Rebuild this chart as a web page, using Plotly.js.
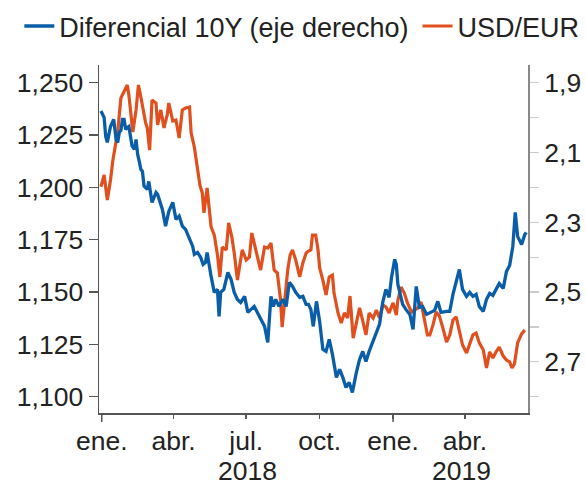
<!DOCTYPE html>
<html>
<head>
<meta charset="utf-8">
<script src="https://cdn.plot.ly/plotly-3.0.1.min.js"></script>
<style>html,body{margin:0;padding:0;background:#fff}#chart{width:586px;height:487px}</style>
</head>
<body>
<div id="chart"></div>
<script>
// USD/EUR (left axis)
const usdDates = ['2017-12-31','2018-01-04','2018-01-08','2018-01-12','2018-01-15','2018-01-19','2018-01-21','2018-01-25','2018-01-29','2018-02-02','2018-02-04','2018-02-06','2018-02-09','2018-02-13','2018-02-16','2018-02-19','2018-02-22','2018-02-25','2018-02-27','2018-03-02','2018-03-05','2018-03-10','2018-03-12','2018-03-16','2018-03-20','2018-03-24','2018-03-26','2018-03-31','2018-04-04','2018-04-08','2018-04-12','2018-04-16','2018-04-21','2018-04-23','2018-04-27','2018-05-01','2018-05-04','2018-05-07','2018-05-09','2018-05-13','2018-05-18','2018-05-22','2018-05-26','2018-05-29','2018-06-01','2018-06-06','2018-06-09','2018-06-13','2018-06-16','2018-06-20','2018-06-24','2018-06-26','2018-07-01','2018-07-05','2018-07-08','2018-07-11','2018-07-15','2018-07-19','2018-07-24','2018-07-28','2018-08-01','2018-08-05','2018-08-09','2018-08-13','2018-08-15','2018-08-18','2018-08-22','2018-08-25','2018-08-28','2018-09-01','2018-09-06','2018-09-10','2018-09-14','2018-09-17','2018-09-20','2018-09-22','2018-09-26','2018-09-29','2018-10-01','2018-10-05','2018-10-09','2018-10-13','2018-10-17','2018-10-19','2018-10-24','2018-10-28','2018-11-01','2018-11-05','2018-11-08','2018-11-12','2018-11-16','2018-11-20','2018-11-24','2018-11-28','2018-12-02','2018-12-07','2018-12-11','2018-12-15','2018-12-19','2018-12-23','2018-12-27','2019-01-01','2019-01-05','2019-01-07','2019-01-11','2019-01-15','2019-01-19','2019-01-24','2019-01-28','2019-02-01','2019-02-05','2019-02-09','2019-02-13','2019-02-16','2019-02-20','2019-02-24','2019-02-28','2019-03-04','2019-03-09','2019-03-13','2019-03-17','2019-03-21','2019-03-25','2019-03-29','2019-04-03','2019-04-07','2019-04-11','2019-04-15','2019-04-19','2019-04-24','2019-04-28','2019-05-02','2019-05-06','2019-05-10','2019-05-14','2019-05-19','2019-05-23','2019-05-27','2019-05-30','2019-06-02','2019-06-06','2019-06-11','2019-06-15'];
const usdEur = [1.2003,1.2059,1.1940,1.2035,1.2131,1.2212,1.2264,1.2427,1.2456,1.2489,1.2441,1.2379,1.2264,1.2370,1.2489,1.2432,1.2360,1.2308,1.2284,1.2178,1.2417,1.2403,1.2298,1.2370,1.2284,1.2346,1.2403,1.2317,1.2322,1.2236,1.2370,1.2379,1.2384,1.2260,1.2193,1.2097,1.2011,1.1973,1.1878,1.1997,1.1811,1.1772,1.1677,1.1572,1.1715,1.1701,1.1830,1.1763,1.1686,1.1557,1.1653,1.1701,1.1653,1.1667,1.1782,1.1734,1.1667,1.1605,1.1715,1.1710,1.1734,1.1605,1.1591,1.1462,1.1333,1.1462,1.1605,1.1677,1.1701,1.1653,1.1572,1.1639,1.1686,1.1696,1.1701,1.1772,1.1772,1.1701,1.1615,1.1557,1.1486,1.1572,1.1581,1.1495,1.1400,1.1352,1.1400,1.1376,1.1481,1.1280,1.1357,1.1424,1.1362,1.1295,1.1400,1.1376,1.1414,1.1376,1.1438,1.1429,1.1400,1.1448,1.1390,1.1462,1.1524,1.1495,1.1448,1.1405,1.1414,1.1424,1.1452,1.1366,1.1295,1.1295,1.1343,1.1405,1.1386,1.1333,1.1261,1.1295,1.1366,1.1381,1.1319,1.1247,1.1209,1.1247,1.1295,1.1304,1.1257,1.1223,1.1137,1.1214,1.1185,1.1214,1.1237,1.1194,1.1175,1.1166,1.1137,1.1156,1.1257,1.1300,1.1319];

// Diferencial 10Y (right axis, reversed)
const difDates = ['2017-12-31','2018-01-04','2018-01-06','2018-01-08','2018-01-10','2018-01-12','2018-01-16','2018-01-19','2018-01-21','2018-01-23','2018-01-25','2018-01-27','2018-01-29','2018-01-31','2018-02-02','2018-02-04','2018-02-08','2018-02-11','2018-02-13','2018-02-15','2018-02-17','2018-02-19','2018-02-21','2018-02-23','2018-02-27','2018-03-01','2018-03-05','2018-03-10','2018-03-12','2018-03-14','2018-03-18','2018-03-22','2018-03-26','2018-03-31','2018-04-04','2018-04-08','2018-04-12','2018-04-16','2018-04-21','2018-04-25','2018-04-27','2018-05-01','2018-05-05','2018-05-08','2018-05-11','2018-05-13','2018-05-18','2018-05-22','2018-05-26','2018-05-28','2018-05-30','2018-06-03','2018-06-08','2018-06-12','2018-06-16','2018-06-20','2018-06-24','2018-06-29','2018-07-03','2018-07-07','2018-07-11','2018-07-15','2018-07-19','2018-07-24','2018-07-28','2018-08-01','2018-08-04','2018-08-07','2018-08-11','2018-08-16','2018-08-20','2018-08-24','2018-08-28','2018-09-01','2018-09-06','2018-09-10','2018-09-14','2018-09-17','2018-09-20','2018-09-23','2018-09-27','2018-10-01','2018-10-05','2018-10-09','2018-10-13','2018-10-17','2018-10-22','2018-10-26','2018-10-30','2018-11-03','2018-11-07','2018-11-11','2018-11-16','2018-11-20','2018-11-24','2018-11-28','2018-12-02','2018-12-07','2018-12-11','2018-12-15','2018-12-19','2018-12-23','2018-12-27','2018-12-30','2019-01-03','2019-01-05','2019-01-07','2019-01-09','2019-01-13','2019-01-17','2019-01-22','2019-01-26','2019-01-30','2019-02-03','2019-02-07','2019-02-12','2019-02-16','2019-02-22','2019-02-26','2019-03-02','2019-03-09','2019-03-13','2019-03-17','2019-03-21','2019-03-25','2019-03-29','2019-04-03','2019-04-07','2019-04-11','2019-04-15','2019-04-19','2019-04-24','2019-04-28','2019-05-02','2019-05-06','2019-05-10','2019-05-14','2019-05-19','2019-05-23','2019-05-27','2019-05-31','2019-06-03','2019-06-06','2019-06-11','2019-06-15','2019-06-17'];
const dif10y = [1.9814,1.9995,2.0539,2.0711,2.0482,2.0253,2.0052,2.0625,2.0711,2.0425,2.0367,2.0052,2.0052,2.0339,2.0281,2.0253,2.0817,2.0912,2.0625,2.1055,2.1256,2.1485,2.1542,2.1964,2.2058,2.1829,2.2431,2.2144,2.2202,2.2345,2.2632,2.3110,2.2689,2.2431,2.2918,2.2824,2.3110,2.3205,2.3491,2.3692,2.3921,2.3864,2.4007,2.4208,2.4151,2.3864,2.4552,2.5010,2.4924,2.5698,2.5010,2.4924,2.4437,2.4638,2.5010,2.5211,2.5297,2.5125,2.5584,2.5498,2.5412,2.5584,2.5784,2.5985,2.6444,2.5125,2.5412,2.5211,2.5412,2.5211,2.5412,2.4724,2.4839,2.5010,2.5154,2.5125,2.5354,2.5354,2.5498,2.5985,2.5268,2.5842,2.6644,2.6702,2.6358,2.6788,2.7447,2.7217,2.7447,2.7733,2.7590,2.7877,2.7303,2.6931,2.6702,2.6988,2.6702,2.6415,2.6214,2.5928,2.5297,2.4924,2.5154,2.4581,2.4065,2.4208,2.4781,2.4982,2.5354,2.5498,2.5641,2.6071,2.4839,2.5440,2.5412,2.5641,2.5584,2.5526,2.5268,2.5584,2.5555,2.5555,2.5068,2.4724,2.4351,2.4924,2.5125,2.5010,2.5125,2.5068,2.5412,2.5555,2.5211,2.5039,2.5096,2.4924,2.4753,2.4896,2.4409,2.4237,2.3692,2.2718,2.3405,2.3635,2.3348,2.3291];

const xTickVals = ['2018-01-01','2018-04-01','2018-07-01','2018-10-01','2019-01-01','2019-04-01'];
const xTickText = ['ene.','abr.','jul.','oct.','ene.','abr.'];
const yearLabels = ['2018','2019'];
const yearLabelDates = ['2018-07-03','2019-03-28'];
const yearStarts = ['2018-01-01','2019-01-01'];
const leftTicks = [1.100,1.125,1.150,1.175,1.200,1.225,1.250];
const rightTicks = [1.9,2.1,2.3,2.5,2.7];

const BLUE = '#0a5ea8';
const ORANGE = '#e0501f';
const FONT = 'Liberation Sans, Arial, sans-serif';
const TICKFONT = {family: FONT, size: 26.5, color: '#222'};

const traces = [
  {x: difDates, y: dif10y, name: 'Diferencial 10Y (eje derecho)', type: 'scatter', mode: 'lines',
   yaxis: 'y2', legend: 'legend', line: {color: BLUE, width: 3.3}},
  {x: usdDates, y: usdEur, name: 'USD/EUR', type: 'scatter', mode: 'lines',
   yaxis: 'y', legend: 'legend2', line: {color: ORANGE, width: 3.2}}
];

const shapes = yearStarts.map(d => ({
  type: 'line', xref: 'x', yref: 'paper', x0: d, x1: d, y0: 0, y1: -0.026,
  line: {color: '#555', width: 1.5}
}));

const annotations = yearLabels.map((t, i) => ({
  text: t, x: yearLabelDates[i], xref: 'x', yref: 'paper', y: -0.167, yanchor: 'middle',
  xanchor: 'center', showarrow: false, font: TICKFONT
}));

const legendBase = {orientation: 'h', xref: 'container', yref: 'container', y: 0.996,
  xanchor: 'left', yanchor: 'top', font: {family: FONT, size: 27, color: '#222'},
  itemwidth: 30, bgcolor: 'rgba(0,0,0,0)'};

const layout = {
  width: 586, height: 487,
  margin: {l: 99, r: 58, t: 65, b: 74},
  paper_bgcolor: '#fff', plot_bgcolor: '#fff',
  separators: ',.',
  font: {family: FONT, size: 26, color: '#222'},
  showlegend: true,
  legend: Object.assign({}, legendBase, {x: 0.033}),
  legend2: Object.assign({}, legendBase, {x: 0.7125}),
  xaxis: {type: 'date', range: ['2017-12-28 14:00', '2019-06-19'],
          tickvals: xTickVals, ticktext: xTickText, ticks: 'outside', ticklen: 4, tickwidth: 1.5, tickcolor: '#555',
          showline: true, linecolor: '#555', linewidth: 1.5, showgrid: false, zeroline: false,
          tickfont: TICKFONT},
  yaxis: {range: [1.09221, 1.25846], tickvals: leftTicks, tickformat: '.3f', ticks: 'outside', ticklen: 9,
          tickwidth: 1.5, tickcolor: '#555', showline: true, linecolor: '#555', linewidth: 1.5,
          showgrid: false, zeroline: false, tickfont: TICKFONT},
  yaxis2: {overlaying: 'y', side: 'right', range: [2.8467, 1.8493], tickvals: rightTicks, tickformat: '.1f',
           ticks: 'outside', ticklen: 9, tickwidth: 1.2, tickcolor: '#ccc',
           minor: {dtick: 0.1, tick0: 1.9, ticks: 'outside', ticklen: 9, tickwidth: 1.2, tickcolor: '#ccc'},
           showline: true, linecolor: '#888', linewidth: 2, showgrid: false, zeroline: false,
           tickfont: TICKFONT},
  shapes: shapes,
  annotations: annotations
};

Plotly.newPlot('chart', traces, layout, {displayModeBar: false, staticPlot: true});
</script>
</body>
</html>
